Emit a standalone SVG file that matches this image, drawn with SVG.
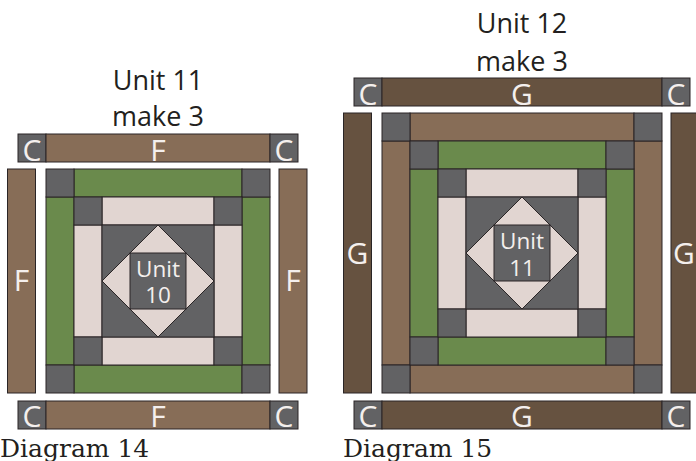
<svg xmlns="http://www.w3.org/2000/svg" width="696" height="461" viewBox="0 0 696 461">
<style>
.q{stroke:#2a2526;stroke-width:1}
.g{fill:#626264}.gr{fill:#6a8a4c}.p{fill:#e1d5d1}.lb{fill:#876d57}.db{fill:#665240}
.lbl{font-family:"Open Sans","Noto Sans",sans-serif;fill:#f4efed;text-anchor:middle}
.s{font-size:30px}.u{font-size:22.5px}
.t{font-family:"Open Sans","Noto Sans",sans-serif;font-size:27px;fill:#231f20;text-anchor:middle}
.d{font-family:"DejaVu Serif",serif;font-size:25px;fill:#231f20}
</style>
<rect width="696" height="461" fill="#fff"/>

<g id="diagram14" class="q">
 <g id="title14" stroke="none"><text class="t" x="158" y="89.5">Unit 11</text><text class="t" x="158" y="126">make 3</text></g>
 <g id="top14">
  <rect class="g" x="18" y="134" width="28" height="28"/><rect class="lb" x="46" y="134" width="224" height="28"/><rect class="g" x="270" y="134" width="28" height="28"/>
  <g stroke="none"><text class="lbl s" x="32" y="160.5">C</text><text class="lbl s" x="158" y="160.5">F</text><text class="lbl s" x="284" y="160.5">C</text></g>
 </g>
 <g id="left14"><rect class="lb" x="7.5" y="169" width="28" height="224"/><text stroke="none" class="lbl s" x="21.5" y="291">F</text></g>
 <g id="right14"><rect class="lb" x="279" y="169" width="28" height="224"/><text stroke="none" class="lbl s" x="293" y="291">F</text></g>
 <g id="block14">
  <rect class="gr" x="74" y="169" width="168" height="28"/><rect class="gr" x="74" y="365" width="168" height="28"/>
  <rect class="gr" x="46" y="197" width="28" height="168"/><rect class="gr" x="242" y="197" width="28" height="168"/>
  <rect class="g" x="46" y="169" width="28" height="28"/><rect class="g" x="242" y="169" width="28" height="28"/>
  <rect class="g" x="46" y="365" width="28" height="28"/><rect class="g" x="242" y="365" width="28" height="28"/>
  <rect class="p" x="102" y="197" width="112" height="28"/><rect class="p" x="102" y="337" width="112" height="28"/>
  <rect class="p" x="74" y="225" width="28" height="112"/><rect class="p" x="214" y="225" width="28" height="112"/>
  <rect class="g" x="74" y="197" width="28" height="28"/><rect class="g" x="214" y="197" width="28" height="28"/>
  <rect class="g" x="74" y="337" width="28" height="28"/><rect class="g" x="214" y="337" width="28" height="28"/>
  <rect class="g" x="102" y="225" width="112" height="112"/>
  <polygon class="p" points="158,225 214,281 158,337 102,281"/>
  <rect class="g" x="130" y="253" width="56" height="56"/>
  <g stroke="none"><text class="lbl u" x="158" y="277">Unit</text><text class="lbl u" x="158" y="303">10</text></g>
 </g>
 <g id="bottom14">
  <rect class="g" x="18" y="401" width="28" height="28"/><rect class="lb" x="46" y="401" width="224" height="28"/><rect class="g" x="270" y="401" width="28" height="28"/>
  <g stroke="none"><text class="lbl s" x="32" y="427">C</text><text class="lbl s" x="158" y="427">F</text><text class="lbl s" x="284" y="427">C</text></g>
 </g>
 <text id="cap14" stroke="none" class="d" x="0" y="456.5">Diagram 14</text>
</g>

<g id="diagram15" class="q">
 <g id="title15" stroke="none"><text class="t" x="522" y="33">Unit 12</text><text class="t" x="522" y="70.5">make 3</text></g>
 <g id="top15">
  <rect class="g" x="354" y="78" width="28" height="28"/><rect class="db" x="382" y="78" width="280" height="28"/><rect class="g" x="662" y="78" width="28" height="28"/>
  <g stroke="none"><text class="lbl s" x="368" y="104.5">C</text><text class="lbl s" x="522" y="104.5">G</text><text class="lbl s" x="676" y="104.5">C</text></g>
 </g>
 <g id="left15"><rect class="db" x="343.5" y="113" width="28" height="280"/><text stroke="none" class="lbl s" x="357.5" y="264">G</text></g>
 <g id="right15"><rect class="db" x="671" y="113" width="28" height="280"/><text stroke="none" class="lbl s" x="684" y="264">G</text></g>
 <g id="block15">
  <rect class="lb" x="410" y="113" width="224" height="28"/><rect class="lb" x="410" y="365" width="224" height="28"/>
  <rect class="lb" x="382" y="141" width="28" height="224"/><rect class="lb" x="634" y="141" width="28" height="224"/>
  <rect class="g" x="382" y="113" width="28" height="28"/><rect class="g" x="634" y="113" width="28" height="28"/>
  <rect class="g" x="382" y="365" width="28" height="28"/><rect class="g" x="634" y="365" width="28" height="28"/>
  <rect class="gr" x="438" y="141" width="168" height="28"/><rect class="gr" x="438" y="337" width="168" height="28"/>
  <rect class="gr" x="410" y="169" width="28" height="168"/><rect class="gr" x="606" y="169" width="28" height="168"/>
  <rect class="g" x="410" y="141" width="28" height="28"/><rect class="g" x="606" y="141" width="28" height="28"/>
  <rect class="g" x="410" y="337" width="28" height="28"/><rect class="g" x="606" y="337" width="28" height="28"/>
  <rect class="p" x="466" y="169" width="112" height="28"/><rect class="p" x="466" y="309" width="112" height="28"/>
  <rect class="p" x="438" y="197" width="28" height="112"/><rect class="p" x="578" y="197" width="28" height="112"/>
  <rect class="g" x="438" y="169" width="28" height="28"/><rect class="g" x="578" y="169" width="28" height="28"/>
  <rect class="g" x="438" y="309" width="28" height="28"/><rect class="g" x="578" y="309" width="28" height="28"/>
  <rect class="g" x="466" y="197" width="112" height="112"/>
  <polygon class="p" points="522,197 578,253 522,309 466,253"/>
  <rect class="g" x="494" y="225" width="56" height="56"/>
  <g stroke="none"><text class="lbl u" x="522" y="248.5">Unit</text><text class="lbl u" x="522" y="275.5">11</text></g>
 </g>
 <g id="bottom15">
  <rect class="g" x="354" y="401" width="28" height="28"/><rect class="db" x="382" y="401" width="280" height="28"/><rect class="g" x="662" y="401" width="28" height="28"/>
  <g stroke="none"><text class="lbl s" x="368" y="427">C</text><text class="lbl s" x="522" y="427">G</text><text class="lbl s" x="676" y="427">C</text></g>
 </g>
 <text id="cap15" stroke="none" class="d" x="343" y="456.5">Diagram 15</text>
</g>
<g id="connectors"/>
</svg>
